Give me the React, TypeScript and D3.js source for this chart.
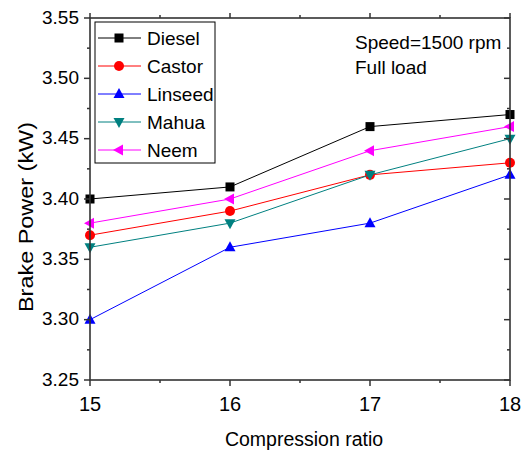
import React from "react";
import * as d3 from "d3";

const compressionRatios = [15, 16, 17, 18];
const seriesNames = ["Diesel", "Castor", "Linseed", "Mahua", "Neem"];
const diesel = [3.40, 3.41, 3.46, 3.47];
const castor = [3.37, 3.39, 3.42, 3.43];
const linseed = [3.30, 3.36, 3.38, 3.42];
const mahua = [3.36, 3.38, 3.42, 3.45];
const neem = [3.38, 3.40, 3.44, 3.46];
const yTicks = [3.25, 3.30, 3.35, 3.40, 3.45, 3.50, 3.55];
const xTicks = [15, 16, 17, 18];

const colors = ["#000000", "#ff0000", "#0000ff", "#008080", "#ff00ff"];
const shapes = ["square", "circle", "up", "down", "left"];

const W = 526, H = 455;
const L = 90, R = 510, T = 18, B = 380;
const FONT = "'Liberation Sans', Arial, sans-serif";

function Marker({ shape, x, y, color }: { shape: string; x: number; y: number; color: string }) {
  const s = 5;
  if (shape === "square") return <rect x={x - 4.5} y={y - 4.5} width={9} height={9} fill={color} />;
  if (shape === "circle") return <circle cx={x} cy={y} r={5} fill={color} />;
  let pts = "";
  if (shape === "up") pts = `${x},${y - s - 1} ${x - s - 0.5},${y + s - 1} ${x + s + 0.5},${y + s - 1}`;
  if (shape === "down") pts = `${x},${y + s + 1} ${x - s - 0.5},${y - s + 1} ${x + s + 0.5},${y - s + 1}`;
  if (shape === "left") pts = `${x - s - 1},${y} ${x + s - 1},${y - s - 0.5} ${x + s - 1},${y + s + 0.5}`;
  return <polygon points={pts} fill={color} />;
}

export default function App() {
  const x = d3.scaleLinear().domain([15, 18]).range([L, R]);
  const y = d3.scaleLinear().domain([3.25, 3.55]).range([B, T]);
  const data = [diesel, castor, linseed, mahua, neem];
  const line = d3.line<number>().x((_, i) => x(compressionRatios[i])).y((d) => y(d));
  const xMinor = d3.range(15.5, 18, 1);
  const yMinor = d3.range(3.275, 3.55, 0.05);
  const axisColor = "#333";

  return (
    <svg width={W} height={H} style={{ position: "absolute", left: 0, top: 0, background: "#fff" }} fontFamily={FONT}>
      {data.map((vals, si) => (
        <g key={seriesNames[si]}>
          <path d={line(vals) || ""} fill="none" stroke={colors[si]} strokeWidth={1} />
          {vals.map((v, i) => (
            <Marker key={i} shape={shapes[si]} x={x(compressionRatios[i])} y={y(v)} color={colors[si]} />
          ))}
        </g>
      ))}
      <rect x={L} y={T} width={R - L} height={B - T} fill="none" stroke={axisColor} strokeWidth={1.6} />
      {yTicks.map((t) => (
        <g key={t}>
          <line x1={L - 6} x2={L} y1={y(t)} y2={y(t)} stroke={axisColor} strokeWidth={1.5} />
          <line x1={R - 6} x2={R} y1={y(t)} y2={y(t)} stroke={axisColor} strokeWidth={1.5} />
          <text x={L - 11} y={y(t)} dy="0.3em" textAnchor="end" fontSize={19} fill="#000">{t.toFixed(2)}</text>
        </g>
      ))}
      {yMinor.map((t) => (
        <g key={"m" + t}>
          <line x1={L - 3} x2={L} y1={y(t)} y2={y(t)} stroke={axisColor} strokeWidth={1.5} />
          <line x1={R - 3} x2={R} y1={y(t)} y2={y(t)} stroke={axisColor} strokeWidth={1.5} />
        </g>
      ))}
      {xTicks.map((t) => (
        <g key={"x" + t}>
          <line x1={x(t)} x2={x(t)} y1={B} y2={B + 6} stroke={axisColor} strokeWidth={1.5} />
          <line x1={x(t)} x2={x(t)} y1={T} y2={T - 5} stroke={axisColor} strokeWidth={1.5} />
          <text x={x(t)} y={B + 31} textAnchor="middle" fontSize={20} fill="#000">{t}</text>
        </g>
      ))}
      {xMinor.map((t) => (
        <g key={"xm" + t}>
          <line x1={x(t)} x2={x(t)} y1={B} y2={B + 3} stroke={axisColor} strokeWidth={1.5} />
          <line x1={x(t)} x2={x(t)} y1={T} y2={T - 3} stroke={axisColor} strokeWidth={1.5} />
        </g>
      ))}
      <text x={304} y={446} textAnchor="middle" fontSize={19.5} fill="#000">Compression ratio</text>
      <text transform={`translate(33,217) rotate(-90)`} textAnchor="middle" fontSize={21} textLength={190} lengthAdjust="spacingAndGlyphs" fill="#000">Brake Power (kW)</text>
      <text x={355} y={49} fontSize={19} fill="#000">Speed=1500 rpm</text>
      <text x={355} y={74} fontSize={19} fill="#000">Full load</text>
      <rect x={95} y={22} width={120} height={141} fill="#fff" stroke="#000" strokeWidth={1} />
      {seriesNames.map((n, i) => {
        const ly = 38 + i * 28;
        return (
          <g key={"lg" + n}>
            <line x1={98} x2={141} y1={ly} y2={ly} stroke={colors[i]} strokeWidth={1} />
            <Marker shape={shapes[i]} x={119} y={ly} color={colors[i]} />
            <text x={147} y={ly} dy="0.36em" fontSize={19} fill="#000">{n}</text>
          </g>
        );
      })}
    </svg>
  );
}
